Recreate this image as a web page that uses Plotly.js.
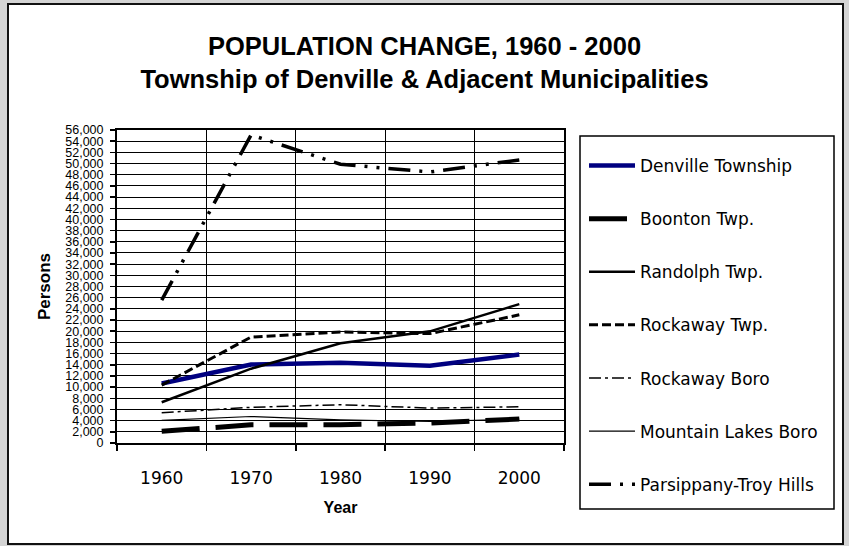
<!DOCTYPE html>
<html>
<head>
<meta charset="utf-8">
<script src="https://cdn.plot.ly/plotly-3.0.1.min.js"></script>
<style>
  html, body { margin: 0; padding: 0; background: #d4d4d4; }
  #chart { width: 849px; height: 546px; }
</style>
</head>
<body>
<div id="chart"></div>
<script>
// Census years (category axis)
const years = ['1960', '1970', '1980', '1990', '2000'];

// Population by municipality
const denville      = [10632, 14045, 14380, 13812, 15824];
const boonton       = [2093, 3251, 3273, 3566, 4287];
const randolph      = [7295, 13296, 17828, 19974, 24847];
const rockawayTwp   = [10356, 18955, 19850, 19572, 22930];
const rockawayBoro  = [5413, 6383, 6852, 6243, 6473];
const mountainLakes = [4037, 4739, 4153, 3847, 4256];
const parsippany    = [25557, 55112, 49868, 48478, 50649];

const seriesNames = ['Denville Township', 'Boonton Twp.', 'Randolph Twp.', 'Rockaway Twp.',
                     'Rockaway Boro', 'Mountain Lakes Boro', 'Parsippany-Troy Hills'];

function lineTrace(name, values, color, width, dash) {
  return {
    type: 'scatter', mode: 'lines', x: years, y: values, name: name,
    legendgroup: name,
    line: { color: color, width: width, dash: dash },
    hoverinfo: 'x+y+name'
  };
}

const traces = [
  lineTrace(seriesNames[0], denville, '#000080', 4.5, 'solid'),
  lineTrace(seriesNames[1], boonton, '#000000', 5, '38px,16px'),
  lineTrace(seriesNames[2], randolph, '#000000', 2.5, 'solid'),
  lineTrace(seriesNames[3], rockawayTwp, '#000000', 3, '9px,4px'),
  lineTrace(seriesNames[4], rockawayBoro, '#000000', 1.5, '12px,4px,3px,4px'),
  lineTrace(seriesNames[5], mountainLakes, '#000000', 1.2, 'solid'),
  lineTrace(seriesNames[6], parsippany, '#000000', 3.5, '22px,9px,3px,9px,3px,9px')
];

// plot area spans 117..564 px horizontally and 130..443 px vertically
const L = 117, R = 564, T = 130, B = 443, W = 849, H = 546;
const px = v => (v - L) / (R - L);
const py = v => (B - v) / (B - T);

const layout = {
  width: W, height: H,
  margin: { l: L, r: W - R, t: T, b: H - B, pad: 0 },
  paper_bgcolor: '#d4d4d4',
  plot_bgcolor: '#ffffff',
  showlegend: true,
  title: {
    text: 'POPULATION CHANGE, 1960 - 2000<br>Township of Denville & Adjacent Municipalities',
    font: { family: 'Liberation Sans, Arial, sans-serif', size: 25.5, color: '#000', weight: 'bold' },
    x: 0.5, xanchor: 'center', xref: 'container',
    y: 1 - 55 / H, yanchor: 'top', yref: 'container'
  },
  xaxis: {
    type: 'category',
    categoryorder: 'array', categoryarray: years,
    range: [-0.5, 4.5],
    tickson: 'boundaries',
    ticks: 'outside', ticklen: 6, tickwidth: 1.5, tickcolor: '#000',
    ticklabelstandoff: 19,
    showgrid: true, gridcolor: '#000', gridwidth: 1,
    showline: true, linecolor: '#000', linewidth: 2, mirror: true,
    tickfont: { family: 'DejaVu Sans, Verdana, sans-serif', size: 17, color: '#000' },
    title: { text: 'Year', standoff: 14,
             font: { family: 'Liberation Sans, Arial, sans-serif', size: 16, color: '#000', weight: 'bold' } },
    fixedrange: true
  },
  yaxis: {
    range: [0, 56000], dtick: 2000, tick0: 0,
    tickformat: ',d',
    ticks: 'outside', ticklen: 5, tickwidth: 1.5, tickcolor: '#000',
    ticklabelstandoff: 4,
    showgrid: true, gridcolor: '#000', gridwidth: 1,
    zeroline: false,
    showline: true, linecolor: '#000', linewidth: 2, mirror: true,
    tickfont: { family: 'Liberation Sans, Arial, sans-serif', size: 12.5, color: '#000' },
    title: { text: 'Persons', standoff: 10,
             font: { family: 'Liberation Sans, Arial, sans-serif', size: 17, color: '#000', weight: 'bold' } },
    fixedrange: true
  },
  legend: {
    x: px(584), xanchor: 'left',
    y: py(148), yanchor: 'top',
    maxheight: 500,
    bgcolor: 'rgba(0,0,0,0)', borderwidth: 0,
    traceorder: 'grouped', tracegroupgap: 28,
    itemwidth: 46,
    font: { family: 'DejaVu Sans, Verdana, sans-serif', size: 17, color: '#000' }
  },
  shapes: [
    // outer chart frame
    { type: 'rect', xref: 'paper', yref: 'paper', layer: 'below',
      x0: px(8), x1: px(843), y0: py(544), y1: py(4),
      fillcolor: '#ffffff', line: { color: '#111111', width: 2 } },
    // legend frame
    { type: 'rect', xref: 'paper', yref: 'paper', layer: 'above',
      x0: px(580), x1: px(834), y0: py(509), y1: py(136),
      line: { color: '#000000', width: 1.5 } }
  ]
};

Plotly.newPlot('chart', traces, layout, { displayModeBar: false, staticPlot: true });
</script>
</body>
</html>
